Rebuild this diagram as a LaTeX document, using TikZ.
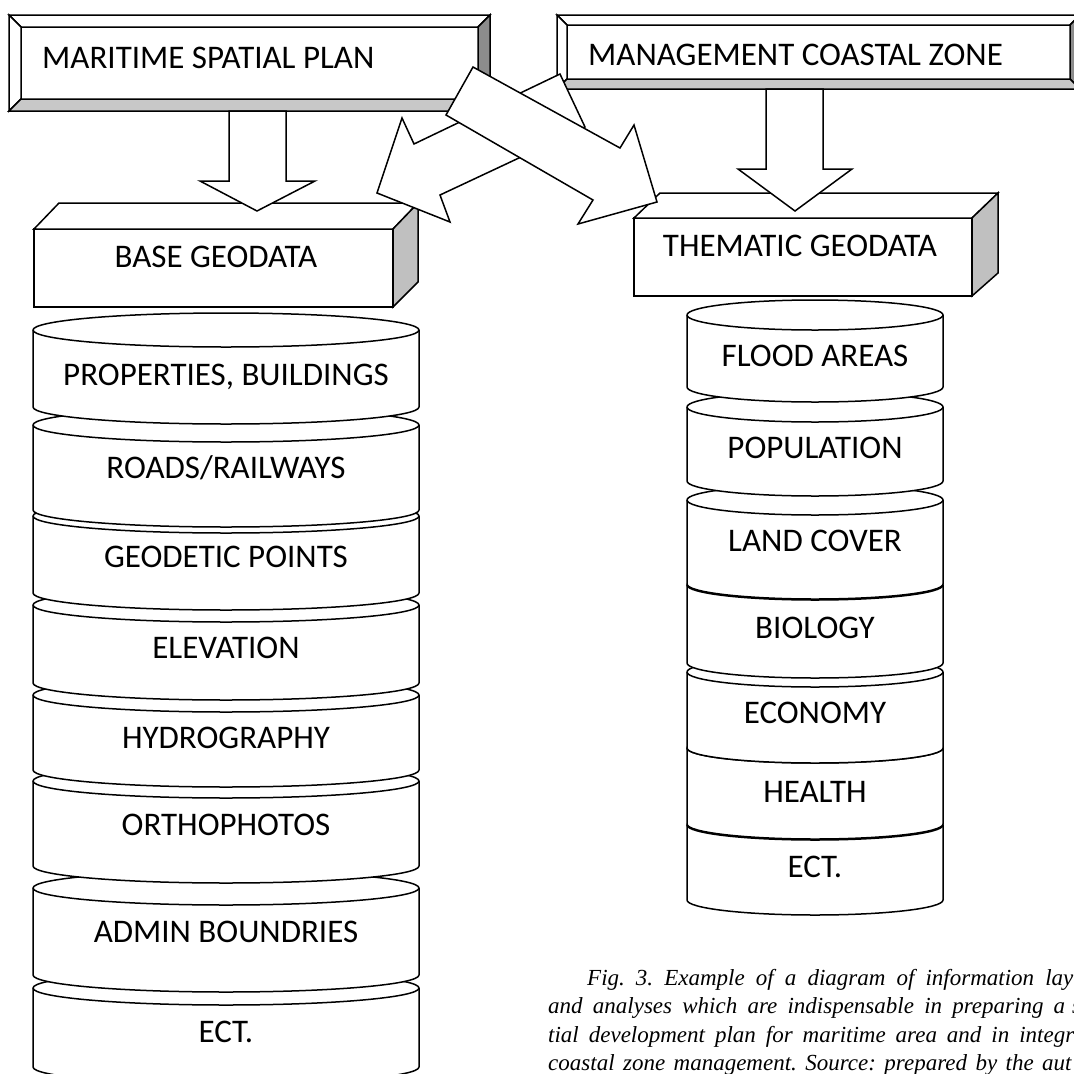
\documentclass[tikz,border=0pt]{standalone}
\usepackage{fontspec}
\setmainfont{Carlito}
\newfontfamily\capfont{Liberation Serif}
\usepackage{xcolor}
\usepackage{tikz}
\definecolor{banddark}{HTML}{8C8C8C}
\definecolor{bandlight}{HTML}{C8C8C8}
\definecolor{sideface}{HTML}{C0C0C0}
\tikzstyle{outline} = [draw=black, line width=1.5pt, line join=miter]
\tikzstyle{blockarrow} = [outline, fill=white]
\tikzstyle{boxtext} = [inner sep=0pt, text height=21pt, text depth=0pt, font=\fontsize{33}{40}\selectfont]
\tikzstyle{captext} = [anchor=base west, inner sep=0pt, font=\capfont\itshape\fontsize{23}{28}\selectfont\frenchspacing]
% one layer of a stack: name, cx, rx, ry, top, bottom, label y, text
\newcommand{\dblayer}[8]{%
  \filldraw[outline, fill=white] (#2-#3,#5) -- (#2-#3,#6) arc[start angle=180, end angle=360, x radius=#3, y radius=#4] -- (#2+#3,#5) arc[start angle=0, end angle=180, x radius=#3, y radius=#4] -- cycle;
  \draw[outline] (#2-#3,#5) arc[start angle=180, end angle=360, x radius=#3, y radius=#4];
  \node[boxtext] (#1) at (#2,#7) {#8};
}
% bevelled frame: left, top, right, bottom, band
\newcommand{\bevelbox}[5]{%
  \filldraw[outline, fill=white] (#1,#2) -- (#1+#5,#2-#5) -- (#3-#5,#2-#5) -- (#3,#2) -- cycle;
  \filldraw[outline, fill=white] (#1,#2) -- (#1+#5,#2-#5) -- (#1+#5,#4+#5) -- (#1,#4) -- cycle;
  \filldraw[outline, fill=banddark] (#3,#2) -- (#3-#5,#2-#5) -- (#3-#5,#4+#5) -- (#3,#4) -- cycle;
  \filldraw[outline, fill=bandlight] (#1,#4) -- (#1+#5,#4+#5) -- (#3-#5,#4+#5) -- (#3,#4) -- cycle;
}

\begin{document}
\begin{tikzpicture}[x=1pt, y=1pt]
  \useasboundingbox (0,0) rectangle (1074,-1074);
  \clip (0,0) rectangle (1074,-1074);

  % base geodata stack (lowest first)
  \dblayer{l8}{226}{193}{17}{-988}{-1067}{-1032}{ECT.}
  \dblayer{l7}{226}{193}{17}{-888}{-975}{-932}{ADMIN BOUNDRIES}
  \dblayer{l6}{226}{193}{17}{-781}{-866}{-825}{ORTHOPHOTOS}
  \dblayer{l5}{226}{193}{17}{-695}{-770}{-738}{HYDROGRAPHY}
  \dblayer{l4}{226}{193}{17}{-605}{-683}{-648}{ELEVATION}
  \dblayer{l3}{226}{193}{17}{-516}{-593}{-557}{GEODETIC POINTS}
  \dblayer{l2}{226}{193}{17}{-425}{-510}{-468}{ROADS/RAILWAYS}
  \dblayer{l1}{226}{193}{17}{-330}{-407}{-375}{PROPERTIES, BUILDINGS}

  % thematic geodata stack
  \dblayer{r7}{815}{128}{15}{-825}{-900}{-867}{ECT.}
  \dblayer{r6}{815}{128}{15}{-748}{-824}{-792}{HEALTH}
  \dblayer{r5}{815}{128}{15}{-672}{-748}{-713}{ECONOMY}
  \dblayer{r4}{815}{128}{15}{-585}{-663}{-628}{BIOLOGY}
  \dblayer{r3}{815}{128}{15}{-500}{-584}{-541}{LAND COVER}
  \dblayer{r2}{815}{128}{15}{-407}{-481}{-448}{POPULATION}
  \dblayer{r1}{815}{128}{15}{-315}{-387}{-356}{FLOOD AREAS}

  % 3d boxes
  \filldraw[outline, fill=white] (34,-229) rectangle (393,-307);
  \filldraw[outline, fill=white] (34,-229) -- (59,-203) -- (418,-203) -- (393,-229) -- cycle;
  \filldraw[outline, fill=sideface] (393,-229) -- (418,-203) -- (418,-282) -- (393,-307) -- cycle;
  \node[boxtext] (base) at (216,-257) {BASE GEODATA};

  \filldraw[outline, fill=white] (634,-218) rectangle (972,-296);
  \filldraw[outline, fill=white] (634,-218) -- (660,-193) -- (998,-193) -- (972,-218) -- cycle;
  \filldraw[outline, fill=sideface] (972,-218) -- (998,-193) -- (998,-273) -- (972,-296) -- cycle;
  \node[boxtext] (thematic) at (800,-246) {THEMATIC GEODATA};

  % top frames
  \bevelbox{9}{-15}{490}{-111}{12}
  \node[boxtext, anchor=west] (msp) at (42,-58) {MARITIME SPATIAL PLAN};
  \bevelbox{557}{-15}{1080}{-89}{10}
  \node[boxtext, anchor=west] (mcz) at (588,-55) {MANAGEMENT COASTAL ZONE};

  % block arrows
  \filldraw[blockarrow] (229,-111) -- (286,-111) -- (286,-181) -- (315,-181) -- (257,-211) -- (200,-181) -- (229,-181) -- cycle;
  \filldraw[blockarrow] (766,-89) -- (823,-89) -- (823,-169) -- (852,-169) -- (795,-211) -- (738,-169) -- (766,-169) -- cycle;
  \filldraw[blockarrow] (560,-74) -- (414,-144) -- (402,-118) -- (377,-193) -- (450,-222) -- (440,-195) -- (585,-127) -- cycle;
  \filldraw[blockarrow] (473,-67) -- (620,-148) -- (634,-125) -- (657,-202) -- (578,-224) -- (593,-200) -- (446,-115) -- cycle;

  % caption
  \node[captext] (cap1) at (587,-985) {\makebox[476pt][s]{Fig. 3. Example of a diagram of information la}y};
  \node[captext] (cap2) at (548,-1013) {\makebox[517pt][s]{and analyses which are indispensable in preparing a}\hspace{7pt}s};
  \node[captext] (cap3) at (548,-1042) {\makebox[526pt][s]{tial development plan for maritime area and in integr}};
  \node[captext] (cap4) at (548,-1070) {\makebox[517pt][s]{coastal zone management. Source: prepared by the au}t};
\end{tikzpicture}
\end{document}
